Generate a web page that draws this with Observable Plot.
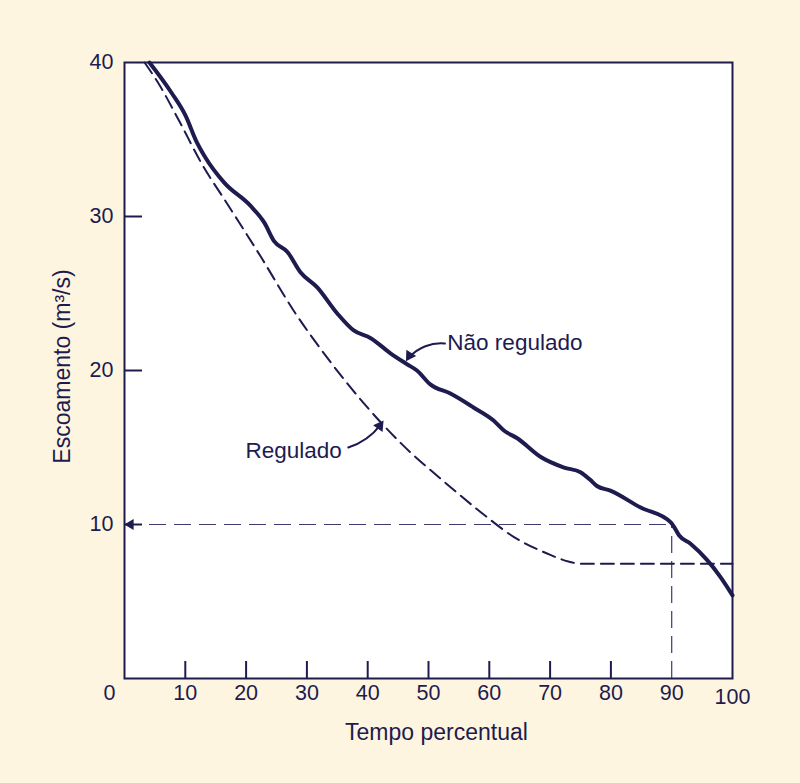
<!DOCTYPE html>
<html>
<head>
<meta charset="utf-8">
<script src="https://cdn.jsdelivr.net/npm/d3@7"></script>
<script src="https://cdn.jsdelivr.net/npm/@observablehq/plot@0.6"></script>
<style>
  html, body { margin: 0; padding: 0; background: #fdf5df; }
  svg { display: block; }
</style>
</head>
<body>
<div id="chart"></div>
<script>
// ---- data ----
const naoReguladoX = [4.1, 7.7, 10.1, 11.8, 13.2, 16.4, 20.7, 23.0, 24.6, 26.8, 28.9, 31.7, 35.0, 37.7, 40.5, 43.8, 46.5, 48.1, 50.3, 53.6, 57.4, 60.7, 62.4, 64.6, 68.4, 72.3, 75.0, 76.6, 77.7, 79.9, 84.9, 89.8, 90.3, 91.2, 93.1, 95.8, 98.0, 100];
const naoReguladoY = [40, 38.05, 36.5, 34.9, 33.9, 32.2, 30.7, 29.6, 28.4, 27.7, 26.4, 25.4, 23.7, 22.6, 22.1, 21.1, 20.4, 20.0, 19.1, 18.5, 17.6, 16.75, 16.1, 15.6, 14.4, 13.7, 13.4, 12.9, 12.5, 12.2, 11.1, 10.15, 9.9, 9.3, 8.75, 7.7, 6.6, 5.4];

const reguladoX = [3.3, 5.5, 9.0, 12.6, 17.1, 22.4, 27.8, 33.4, 39.3, 45.4, 52.8, 58.6, 64.0, 69.6, 73.0, 75.0, 100];
const reguladoY = [40, 38.7, 36.2, 33.5, 30.7, 27.4, 23.9, 20.8, 17.9, 15.3, 12.7, 10.8, 9.2, 8.1, 7.6, 7.45, 7.45];

const refTime = 90;   // tempo percentual marcado
const refFlow = 10;   // escoamento marcado

const xTicks = [10, 20, 30, 40, 50, 60, 70, 80];
const xTickLabels = [10, 20, 30, 40, 50, 60, 70, 80, 90];
const yTicks = [10, 20, 30];
const yTickLabels = [10, 20, 30, 40];

// annotations: label anchor and arrow (tail -> tip)
const annNao = {label: "Não regulado", x: 53.1, y: 21.8, x1: 52.7, y1: 21.75, x2: 46.3, y2: 20.6};
const annReg = {label: "Regulado", x: 19.9, y: 14.8, x1: 36.8, y1: 15.0, x2: 42.6, y2: 16.75};

// ---- build ----
const navy = "#1e1b4f";
const font = "Liberation Sans, Arial, Helvetica, sans-serif";
const nao = naoReguladoX.map((x, i) => ({x, y: naoReguladoY[i]}));
const reg = reguladoX.map((x, i) => ({x, y: reguladoY[i]}));

const W = 800, H = 783, mL = 124, mR = 68, mT = 62, mB = 105;
const innerW = W - mL - mR, innerH = H - mT - mB;

const chart = Plot.plot({
  width: W, height: H,
  marginLeft: mL, marginRight: mR, marginTop: mT, marginBottom: mB,
  style: {background: "#fdf5df", fontFamily: font, color: navy},
  x: {domain: [0, 100], axis: null},
  y: {domain: [0, 40], axis: null},
  marks: [
    Plot.frame({fill: "white", stroke: "none"}),
    // reference dashed lines
    Plot.ruleY([refFlow], {x1: 0, x2: refTime, stroke: "#3e3b70", strokeWidth: 1.2, strokeDasharray: "17,8"}),
    Plot.ruleX([refTime], {y1: 0, y2: refFlow, stroke: "#3e3b70", strokeWidth: 1.2, strokeDasharray: "17,8"}),
    Plot.dot([refFlow], {x: 0, y: d => d, symbol: "triangle", r: 4, rotate: 270, dx: 6, fill: navy, stroke: "none"}),
    // curves
    Plot.line(reg, {x: "x", y: "y", stroke: navy, strokeWidth: 2, strokeDasharray: "13,7", curve: "monotone-x"}),
    Plot.line(nao, {x: "x", y: "y", stroke: navy, strokeWidth: 4, curve: "monotone-x"}),
    // ticks (inward)
    Plot.tickX(xTicks, {x: d => d, insetTop: innerH - 17, stroke: navy, strokeWidth: 2}),
    Plot.tickY(yTicks, {y: d => d, insetRight: innerW - 18, stroke: navy, strokeWidth: 2}),
    Plot.frame({stroke: navy, strokeWidth: 2}),
    // tick labels
    Plot.text(xTickLabels, {x: d => d, y: 0, text: d => String(d), dy: 15, fontSize: 21.5, fill: navy}),
    Plot.text([0], {x: d => d, y: 0, text: d => String(d), dy: 15, dx: -15, fontSize: 21.5, fill: navy}),
    Plot.text([100], {x: d => d, y: 0, text: d => String(d), dy: 19, fontSize: 21.5, fill: navy}),
    Plot.text(yTickLabels, {x: 0, y: d => d, text: d => String(d), dx: -11, textAnchor: "end", fontSize: 21.5, fill: navy}),
    // axis titles
    Plot.text(["Tempo percentual"], {frameAnchor: "bottom", text: d => d, textAnchor: "middle", lineAnchor: "middle", dx: 8, dy: 54, fontSize: 23, fill: navy}),
    Plot.text(["Escoamento (m³/s)"], {frameAnchor: "left", text: d => d, textAnchor: "middle", lineAnchor: "middle", rotate: -90, dx: -62, dy: -4, fontSize: 23, fill: navy}),
    // annotations
    Plot.text([annNao], {x: "x", y: "y", text: "label", textAnchor: "start", fontSize: 22.5, fill: navy}),
    Plot.text([annReg], {x: "x", y: "y", text: "label", textAnchor: "start", fontSize: 22.5, fill: navy}),
    Plot.arrow([annNao], {x1: "x1", y1: "y1", x2: "x2", y2: "y2", bend: -30, headLength: 0, stroke: navy, strokeWidth: 2, insetEnd: 5}),
    Plot.arrow([annReg], {x1: "x1", y1: "y1", x2: "x2", y2: "y2", bend: -20, headLength: 0, stroke: navy, strokeWidth: 2, insetEnd: 5}),
    Plot.dot([annNao], {x: "x2", y: "y2", symbol: "triangle", r: 4.3, rotate: 212, dx: 3.5, dy: -5.6, fill: navy, stroke: "none"}),
    Plot.dot([annReg], {x: "x2", y: "y2", symbol: "triangle", r: 4.3, rotate: 35, dx: -3.8, dy: 5.4, fill: navy, stroke: "none"})
  ]
});
document.getElementById("chart").appendChild(chart);
</script>
</body>
</html>
